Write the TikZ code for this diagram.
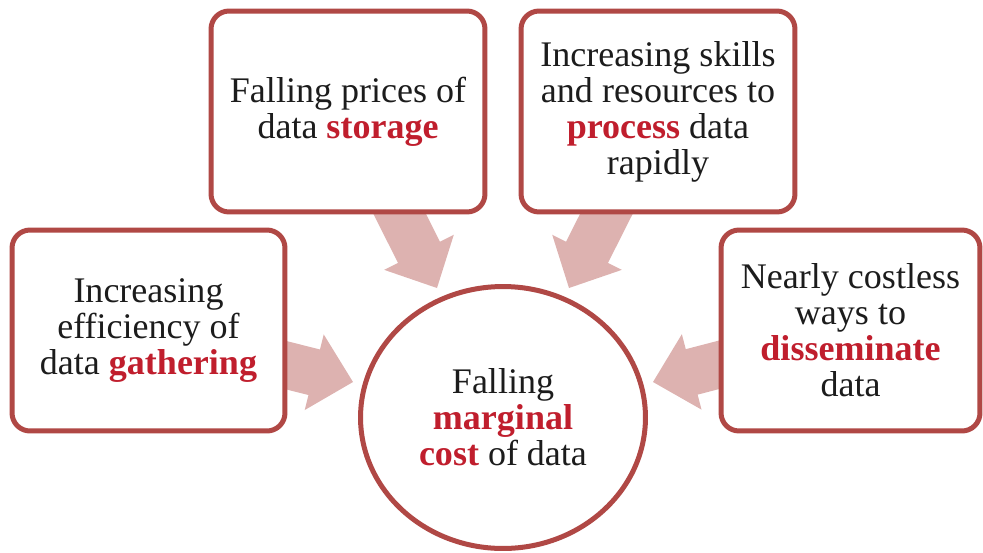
\documentclass[tikz,border=0pt]{standalone}
\usepackage{fontspec}
\setmainfont{LiberationSerif}[Extension=.ttf,UprightFont=*-Regular,BoldFont=*-Bold]
\usepackage{xcolor}
\usetikzlibrary{calc,shapes.geometric}
\definecolor{borde}{HTML}{B04845}
\definecolor{flecha}{HTML}{DDB2B0}
\definecolor{rojo}{HTML}{C01E2D}
\definecolor{tinta}{HTML}{1C1C1C}
\pgfdeclarelayer{fondo}
\pgfsetlayers{fondo,main}
\tikzset{
  caja/.style={draw=borde,line width=0.1cm,fill=white,rounded corners=0.36cm,minimum height=4.02cm,align=center,text=tinta,font=\fontsize{20.5}{20.5}\selectfont},
  centro/.style={ellipse,draw=borde,line width=0.1cm,fill=white,minimum width=5.7cm,minimum height=5.24cm,align=center,text=tinta,font=\fontsize{20.5}{20.5}\selectfont},
  gruesa/.style={fill=flecha}
}
\newcommand{\clave}[1]{\textcolor{rojo}{\textbf{#1}}}
\newcommand{\flechon}[2]{%
  \coordinate (h) at ($(#2)!0.8cm!(#1)$);
  \fill[gruesa] ($(#1)!0.47cm!90:(#2)$) -- ($(h)!0.47cm!90:(#2)$) -- ($(h)!0.78cm!90:(#2)$) -- (#2) -- ($(h)!0.78cm!-90:(#2)$) -- ($(h)!0.47cm!-90:(#2)$) -- ($(#1)!0.47cm!-90:(#2)$) -- cycle;}

\begin{document}
\begin{tikzpicture}[x=0.02cm,y=-0.02cm]
\useasboundingbox (0,0) rectangle (983,552);
\node[caja,minimum width=5.46cm] (gather) at (148.5,330.5) {Increasing\\efficiency of\\data \clave{gathering}};
\node[caja,minimum width=5.48cm] (storage) at (348,111.5) {Falling prices of\\data \clave{storage}};
\node[caja,minimum width=5.48cm] (process) at (658,111.5) {Increasing skills\\and resources to\\\clave{process} data\\rapidly};
\node[caja,minimum width=5.18cm] (dissem) at (850.5,330.5) {Nearly costless\\ways to\\\clave{disseminate}\\data};
\node[centro] (cost) at (503,417.5) {Falling\\\clave{marginal}\\\clave{cost} of data};
\coordinate (tg) at (353,382); \coordinate (ts) at (437,288);
\coordinate (tp) at (569,288); \coordinate (td) at (653,382);
\begin{pgfonlayer}{fondo}
\flechon{gather.center}{tg}
\flechon{storage.center}{ts}
\flechon{process.center}{tp}
\flechon{dissem.center}{td}
\end{pgfonlayer}
\end{tikzpicture}
\end{document}
